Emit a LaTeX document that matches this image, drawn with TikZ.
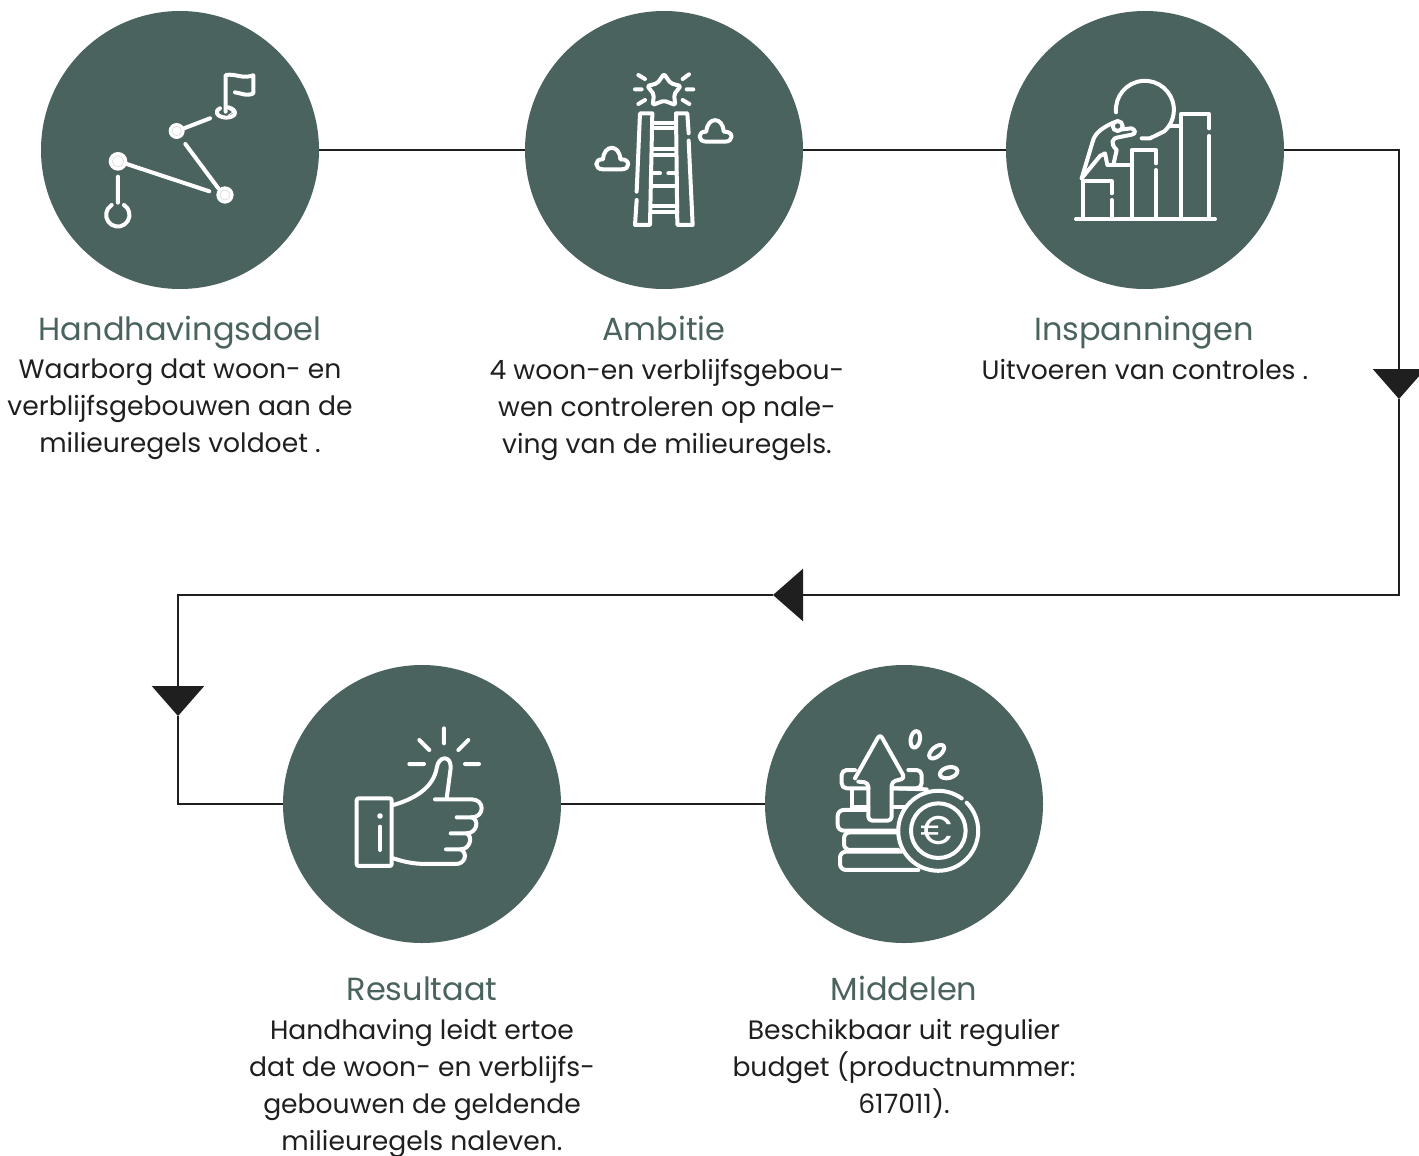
\documentclass[tikz,border=0pt]{standalone}
\usepackage{fontspec}
\setmainfont{Poppins}
\usetikzlibrary{arrows.meta}
\definecolor{groen}{HTML}{4A635E}
\definecolor{donker}{HTML}{1F1F1F}
\begin{document}
\begin{tikzpicture}
    % one unit is one pixel of the reference, y runs downwards
    [x=1pt, y=-1pt,
      stap/.style={circle, minimum size=278pt, inner sep=0pt, fill=groen},
      kop/.style={text=groen, font=\fontsize{32}{37}\selectfont, align=center, inner sep=0pt, anchor=base},
      tekst/.style={text=donker, font=\fontsize{26.6}{37}\selectfont, align=center, inner sep=0pt, anchor=north},
      lijn/.style={draw=donker, line width=2.6pt},
      pijl/.style={lijn, -{Triangle[width=52pt, length=30pt]}},
      icoon/.style={draw=white, line width=4pt, line cap=round, line join=round},
      schaal/.style={x=0.3333pt, y=-0.3333pt}]
    \useasboundingbox (0,0) rectangle (1419,1156);

    \node[stap] (doel) at (180,150) {};
    \node[stap] (ambitie) at (664,150) {};
    \node[stap] (inspanning) at (1145,150) {};
    \node[stap] (resultaat) at (422,804) {};
    \node[stap] (middelen) at (904,804) {};

    \coordinate (pijlA) at (1399,399);
    \coordinate (pijlB) at (773,595);
    \coordinate (pijlC) at (178,716);

    % connectors
    \draw[lijn] (doel.east) -- (ambitie.west);
    \draw[lijn] (ambitie.east) -- (inspanning.west);
    \draw[pijl] (inspanning.east) -| (pijlA);
    \draw[pijl] (pijlA) |- (pijlB);
    \draw[pijl] (pijlB) -| (pijlC);
    \draw[lijn] (pijlC) |- (resultaat.west);
    \draw[lijn] (resultaat.east) -- (middelen.west);

    % texts
    \node[kop] (doelkop) at (180,340) {Handhavingsdoel};
    \node[tekst] (doeltekst) at (180,359) {Waarborg dat woon- en\\verblijfsgebouwen aan de\\milieuregels voldoet .};
    \node[kop] (ambitiekop) at (664,340) {Ambitie};
    \node[tekst] (ambitietekst) at (667,359) {4 woon-en verblijfsgebou-\\wen controleren op nale-\\ving van de milieuregels.};
    \node[kop] (inspanningkop) at (1144,340) {Inspanningen};
    \node[tekst] (inspanningtekst) at (1145,359) {Uitvoeren van controles .};
    \node[kop] (resultaatkop) at (422,1000) {Resultaat};
    \node[tekst] (resultaattekst) at (422,1019) {Handhaving leidt ertoe\\dat de woon- en verblijfs-\\gebouwen de geldende\\milieuregels naleven.};
    \node[kop] (middelenkop) at (904,1000) {Middelen};
    \node[tekst] (middelentekst) at (904,1019) {Beschikbaar uit regulier\\budget (productnummer:\\617011).};

    % route icon
    \begin{scope}[shift={(80,50)}, schaal]
      \draw[icoon] (437,185) -- (437,75) .. controls (470,70) and (485,88) .. (520,76) -- (520,130) .. controls (500,140) and (485,130) .. (465,127);
      \draw[icoon] (420,175) .. controls (405,180) and (405,200) .. (437,203) .. controls (470,203) and (475,180) .. (445,172);
      \draw[draw=white, line width=1pt] (445,176) -- (459,186) -- (445,196);
      \foreach \x/\y/\r in {290/243/24, 114/334/28, 435/435/26}
        \fill[white] (\x,\y) circle[radius=\r*0.3333pt];
      \foreach \x/\y/\r in {290/243/14, 114/334/17, 435/435/15}
        \draw[black!15, line width=0.6pt] (\x,\y) circle[radius=\r*0.3333pt];
      \draw[icoon] (312,235) -- (390,205) (316,282) -- (415,415) (140,342) -- (388,424) (114,380) -- (114,458);
      \draw[icoon] (132,465) arc[start angle=58, end angle=-238, radius=35*0.3333pt];
    \end{scope}

    % ladder icon
    \begin{scope}[shift={(570,50)}, schaal]
      \draw[icoon, rounded corners=2pt] (282,72) -- (302,100) -- (332,108) -- (312,134) -- (316,165) -- (282,152) -- (248,165) -- (252,134) -- (232,108) -- (262,100) -- cycle;
      \draw[icoon] (205,75) -- (225,87) (357,73) -- (338,87) (195,118) -- (215,118) (350,118) -- (370,118) (205,162) -- (225,150) (338,150) -- (358,162);
      \draw[icoon] (200,425) -- (210,190) -- (247,190) -- (240,525) -- (195,525) -- (200,450);
      \draw[icoon] (356,250) -- (352,190) -- (318,190) -- (322,525) -- (368,525) -- (356,272);
      \draw[icoon] (247,218) -- (318,218) (247,235) -- (318,235) (247,297) -- (318,297) (247,315) -- (318,315)
        (247,370) -- (270,370) (295,370) -- (320,370) (245,407) -- (320,407) (245,467) -- (322,467) (245,485) -- (322,485);
      \foreach \x/\y in {437/275, 127/358} {
        \draw[icoon] (\x-28,\y) .. controls (\x-55,\y) and (\x-55,\y-32) .. (\x-28,\y-30) .. controls (\x-25,\y-76) and (\x+22,\y-76) .. (\x+24,\y-30) .. controls (\x+55,\y-32) and (\x+55,\y) .. (\x+28,\y) -- cycle;
      }
    \end{scope}

    % bars icon
    \begin{scope}[shift={(1050,50)}, schaal]
      \draw[icoon] (198,187) arc[start angle=185, end angle=-48, radius=87*0.3333pt] -- (300,265) -- (275,265);
      \draw[icoon] (360,228) -- (390,228);
      \draw[icoon] (393,505) -- (393,193) -- (478,193) -- (478,235) (478,258) -- (478,505);
      \draw[icoon] (245,505) -- (245,300) -- (318,300) -- (318,340) (318,360) -- (318,505);
      \draw[icoon] (175,345) -- (245,345) (185,395) -- (185,430) (185,450) -- (185,505);
      \draw[icoon] (100,505) -- (100,392) -- (185,392);
      \draw[icoon] (78,507) -- (495,507);
      \draw[icoon] (203,228) circle[radius=15*0.3333pt];
      \draw[icoon] (95,385) -- (128,275) .. controls (135,245) and (165,230) .. (190,218);
      \draw[icoon] (218,238) -- (245,235) .. controls (258,240) and (258,252) .. (245,254) -- (205,262) .. controls (185,265) and (180,280) .. (200,300) -- (190,345);
      \draw[icoon] (95,385) -- (150,318) -- (165,310) -- (172,345);
    \end{scope}

    % thumb icon
    \begin{scope}[shift={(330,710)}, schaal]
      \draw[icoon, rounded corners=2pt] (80,265) rectangle (185,468);
      \fill[white] (150,318) circle[radius=2.8pt];
      \draw[icoon] (150,350) -- (150,420);
      \draw[icoon] (342,55) -- (342,100) (268,90) -- (298,120) (415,90) -- (385,120) (238,162) -- (282,162) (405,162) -- (447,162);
      \draw[icoon] (190,285) .. controls (260,265) and (310,230) .. (320,175) .. controls (325,135) and (365,135) .. (362,175) -- (350,265);
      \draw[icoon] (315,268) -- (425,268) .. controls (465,268) and (465,322) .. (425,322) -- (380,322);
      \draw[icoon] (425,322) .. controls (450,330) and (440,370) .. (410,370) -- (362,370);
      \draw[icoon] (410,370) .. controls (430,380) and (420,418) .. (392,418) -- (348,418);
      \draw[icoon] (392,418) .. controls (415,430) and (405,462) .. (378,462) -- (290,462) .. controls (250,462) and (220,455) .. (190,445);
    \end{scope}

    % coins icon
    \begin{scope}[shift={(810,710)}, schaal]
      \draw[icoon, rounded corners=4pt] (145,215) -- (175,218) -- (175,332) -- (245,332) -- (245,215) -- (285,205) -- (210,72) -- (135,205);
      \draw[icoon, rounded corners=5pt] (135,180) -- (95,180) -- (95,235) -- (175,235);
      \draw[icoon, rounded corners=5pt] (295,180) -- (335,180) -- (335,235) -- (250,235);
      \draw[icoon] (250,235) -- (350,238);
      \draw[icoon] (125,240) -- (125,292) -- (175,292) (250,292) -- (285,292);
      \draw[icoon, rounded corners=6pt] (175,300) -- (83,300) -- (83,362) -- (270,362);
      \draw[icoon, rounded corners=6pt] (270,367) -- (102,367) -- (102,420) -- (265,420);
      \draw[icoon, rounded corners=6pt] (275,425) -- (90,425) -- (90,480) -- (325,480);
      \fill[groen] (385,362) circle[radius=40pt];
      \draw[icoon] (470,278) arc[start angle=44.7, end angle=-306, radius=120*0.3333pt];
      \draw[icoon] (385,362) circle[radius=82*0.3333pt];
      \draw[icoon] (316,88) ellipse[x radius=14*0.3333pt, y radius=25*0.3333pt, rotate=-10];
      \draw[icoon] (380,125) ellipse[x radius=14*0.3333pt, y radius=27*0.3333pt, rotate=-50];
      \draw[icoon] (416,188) ellipse[x radius=27*0.3333pt, y radius=16*0.3333pt, rotate=15];
      \node[text=white, font=\fontsize{40}{40}\selectfont, inner sep=0pt] (euro) at (380,362) {€};
    \end{scope}
\end{tikzpicture}
\end{document}
